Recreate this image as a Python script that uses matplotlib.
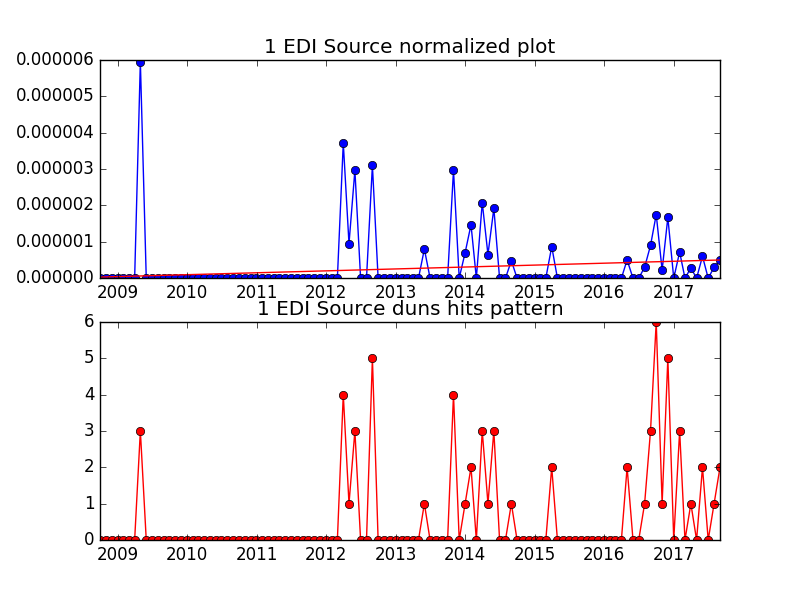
import numpy as np
import pandas as pd
import matplotlib
matplotlib.use("Agg")
import matplotlib.pyplot as plt
import matplotlib.dates as mdates
from matplotlib.ticker import FormatStrFormatter

plt.style.use("classic")

dates = pd.date_range("2008-09-30", "2017-08-31", freq="ME")

# month index (from 2008-09) -> duns hits / normalized value
hit_idx = [7, 42, 43, 44, 47, 56, 61, 63, 64, 66, 67, 68, 71, 78,
           91, 94, 95, 96, 97, 98, 100, 102, 104, 106, 107]
hit_counts = [3, 4, 1, 3, 5, 1, 4, 1, 2, 3, 1, 3, 1, 2,
              2, 1, 3, 6, 1, 5, 3, 1, 2, 1, 2]
norm_vals = [5.95, 3.72, 0.95, 2.97, 3.10, 0.80, 2.97, 0.70, 1.47, 2.08, 0.65, 1.92, 0.48, 0.87,
             0.50, 0.30, 0.90, 1.75, 0.22, 1.67, 0.72, 0.28, 0.60, 0.30, 0.50]
trend_ends = [0.03e-6, 0.50e-6]

hits = np.zeros(len(dates))
norm = np.zeros(len(dates))
for i, h, v in zip(hit_idx, hit_counts, norm_vals):
    hits[i] = h
    norm[i] = v * 1e-6

fig, (ax1, ax2) = plt.subplots(2, 1, figsize=(8, 6), dpi=100)

ax1.plot(dates, norm, "b-o")
ax1.plot([dates[0], dates[-1]], trend_ends, "r-")
ax1.set_ylim(0, 6e-6)
ax1.yaxis.set_major_formatter(FormatStrFormatter("%.6f"))
ax1.set_title("1 EDI Source normalized plot")

ax2.plot(dates, hits, "r-o")
ax2.set_ylim(0, 6)
ax2.set_title("1 EDI Source duns hits pattern")

for ax in (ax1, ax2):
    ax.set_xlim(dates[0], dates[-1])
    ax.xaxis.set_major_locator(mdates.YearLocator())
    ax.xaxis.set_major_formatter(mdates.DateFormatter("%Y"))

fig.savefig("out.png", dpi=100)
